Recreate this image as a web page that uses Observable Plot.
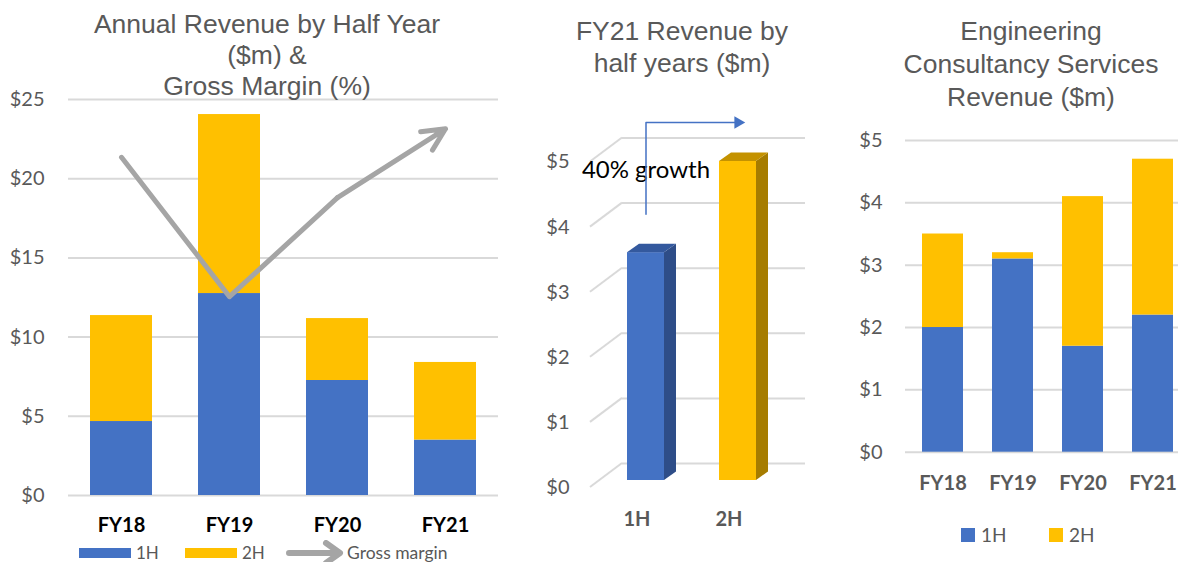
<!DOCTYPE html>
<html><head><meta charset="utf-8">
<script src="https://cdn.jsdelivr.net/npm/d3@7"></script>
<script src="https://cdn.jsdelivr.net/npm/@observablehq/plot@0.6"></script>
<style>
body{margin:0;background:#fff;}
#root{position:relative;width:1178px;height:562px;overflow:hidden;font-family:Lato,sans-serif;}
.panel{position:absolute;top:0;}
.title{position:absolute;text-align:center;font-family:"Liberation Sans",Arial,sans-serif;font-size:26.5px;color:#595959;white-space:nowrap;}
.leg{position:absolute;font-family:Lato,sans-serif;color:#595959;white-space:nowrap;}
.sw{position:absolute;}
</style></head><body><div id="root"></div>
<script>
// ---------- data ----------
const years = ["FY18", "FY19", "FY20", "FY21"];
const halves = ["1H", "2H"];
const annualRevenue1H = [4.67, 12.75, 7.26, 3.5];
const annualRevenue2H = [6.69, 11.3, 3.91, 4.9];
const grossMarginPct = [42.7, 25.1, 37.6, 46.3];
const grossMarginAxisMax = 50; // hidden secondary axis: 50% at the $25m line
const fy21HalfRevenue = [3.5, 4.9];
const ecsRevenue1H = [2.0, 3.1, 1.7, 2.2];
const ecsRevenue2H = [1.5, 0.1, 2.4, 2.5];
const annualTicks = [0, 5, 10, 15, 20, 25];
const fy21Ticks = [0, 1, 2, 3, 4, 5];
const ecsTicks = [0, 1, 2, 3, 4, 5];

const BLUE = "#4472c4", YELLOW = "#ffc000", GRAY = "#a5a5a5", GRID = "#d9d9d9", TXT = "#595959";
const root = document.getElementById("root");
const fmt = d => "$" + d;
const baseStyle = {fontFamily: "Lato, sans-serif", fontSize: "20px", color: TXT, background: "transparent", overflow: "visible"};

function place(el, left) { el.classList.add("panel"); el.style.left = left + "px"; root.appendChild(el); return el; }
function div(cls, html, css) { const d = document.createElement("div"); d.className = cls; d.innerHTML = html; Object.assign(d.style, css); root.appendChild(d); return d; }

// ---------- panel 1 ----------
const annualRows = years.flatMap((y, i) => [
  {year: y, half: "1H", value: annualRevenue1H[i]},
  {year: y, half: "2H", value: annualRevenue2H[i]}
]);
const gmRows = years.map((y, i) => ({year: y, gm: grossMarginPct[i]}));
const gmY = d => d.gm * 25 / grossMarginAxisMax;

const p1 = Plot.plot({
  width: 520, height: 562, marginTop: 99, marginBottom: 67, marginLeft: 68, marginRight: 22,
  style: baseStyle,
  x: {domain: years, paddingInner: 0.43, paddingOuter: 0.205, axis: null},
  y: {domain: [0, 25], axis: null, label: null},
  color: {domain: halves, range: [BLUE, YELLOW]},
  marks: [
    Plot.ruleY(annualTicks, {stroke: GRID, strokeWidth: 2}),
    Plot.barY(annualRows, {x: "year", y: "value", fill: "half"}),
    Plot.axisY(annualTicks, {tickSize: 0, tickPadding: 24, tickFormat: fmt, fontSize: 20, label: null}),
    Plot.text(years, {x: d => d, y: d => 0, dy: 30, text: d => d, fontWeight: "bold", fontSize: 20, fill: "#000"}),
    Plot.line(gmRows.slice(0, 3), {x: "year", y: gmY, stroke: GRAY, strokeWidth: 5, strokeLinecap: "round", strokeLinejoin: "round"}),
    Plot.arrow([{a: gmRows[2], b: gmRows[3]}], {
      x1: d => d.a.year, y1: d => gmY(d.a), x2: d => d.b.year, y2: d => gmY(d.b),
      stroke: GRAY, strokeWidth: 5, headLength: 7.5, headAngle: 52, strokeLinecap: "round", strokeLinejoin: "round"
    })
  ]
});
place(p1, 0);

div("title", "Annual Revenue by Half Year<br>($m) &amp;<br>Gross Margin (%)", {left: "17px", width: "500px", top: "9px", lineHeight: "31px"});
// legend 1
div("sw", "", {left: "79px", top: "548px", width: "52px", height: "10px", background: BLUE});
div("leg", "1H", {left: "136px", top: "543px", lineHeight: "20px", fontSize: "17px"});
div("sw", "", {left: "185px", top: "548px", width: "52px", height: "10px", background: YELLOW});
div("leg", "2H", {left: "242px", top: "543px", lineHeight: "20px", fontSize: "17px"});
div("sw", '<svg width="60" height="26"><path d="M3,13 L52,13 M40,3 L54,13 L40,23" fill="none" stroke="' + GRAY + '" stroke-width="6" stroke-linecap="round" stroke-linejoin="round"/></svg>', {left: "286px", top: "540px", width: "60px", height: "26px"});
div("leg", "Gross margin", {left: "347px", top: "543px", lineHeight: "20px", fontSize: "17.5px"});

// ---------- panel 2 ----------
const fy21Rows = halves.map((h, i) => ({half: h, value: fy21HalfRevenue[i]}));
const growth = Math.round((fy21HalfRevenue[1] / fy21HalfRevenue[0] - 1) * 100);
const connector = [{h: "1H", v: 4.09}, {h: "1H", v: 5.5}, {h: "2H", v: 5.5}];

const p2 = Plot.plot({
  width: 310, height: 562, marginTop: 154.5, marginBottom: 82, marginLeft: 61, marginRight: 28,
  style: baseStyle,
  x: {domain: halves, paddingInner: 0.598, paddingOuter: 0.5, axis: null},
  y: {domain: [0, 5], axis: null, label: null},
  color: {domain: halves, range: [BLUE, YELLOW]},
  marks: [
    Plot.ruleY(fy21Ticks, {dy: -17, insetLeft: 41, insetRight: -3, stroke: GRID, strokeWidth: 2}),
    Plot.barY(fy21Rows, {x: "half", y: "value", fill: "half"}),
    Plot.axisY(fy21Ticks, {tickSize: 0, tickPadding: 12, dy: 7, tickFormat: fmt, fontSize: 20, label: null}),
    Plot.text(halves, {x: d => d, y: d => 0, dy: 39, dx: -9, text: d => d, fontWeight: "bold", fontSize: 20, fill: TXT}),
    Plot.text([growth + "% growth"], {x: d => "1H", y: d => 4.76, text: d => d, fontSize: 24, fill: "#000"}),
    Plot.line(connector, {x: "h", y: "v", stroke: BLUE, strokeWidth: 1.5}),
    Plot.dot(connector.slice(2), {x: "h", y: "v", symbol: "triangle2", rotate: 90, r: 6, fill: BLUE})
  ]
});
place(p2, 520);
{
  const sx = p2.scale("x"), sy = p2.scale("y"), bw = sx.bandwidth;
  const svg = d3.select(p2);
  const back = svg.insert("g", ":first-child");
  fy21Ticks.forEach(t => {
    const y = sy.apply(t);
    back.append("line").attr("x1", 70).attr("y1", y + 7).attr("x2", 102).attr("y2", y - 17)
      .attr("stroke", GRID).attr("stroke-width", 2);
  });
  const g = svg.append("g");
  const DX = 12, DY = -8.5;
  const sideCol = {"1H": "#2e4d88", "2H": "#a67c00"}, topCol = {"1H": "#34599e", "2H": "#c49200"};
  fy21Rows.forEach(d => {
    const x0 = sx.apply(d.half), x1 = x0 + bw, yt = sy.apply(d.value), yb = sy.apply(0);
    g.append("polygon").attr("points", [[x1, yt], [x1 + DX, yt + DY], [x1 + DX, yb + DY], [x1, yb]].join(" ")).attr("fill", sideCol[d.half]);
    g.append("polygon").attr("points", [[x0, yt], [x0 + DX, yt + DY], [x1 + DX, yt + DY], [x1, yt]].join(" ")).attr("fill", topCol[d.half]);
  });
}
div("title", "FY21 Revenue by<br>half years ($m)", {left: "532px", width: "300px", top: "15px", lineHeight: "32px"});

// ---------- panel 3 ----------
const ecsRows = years.flatMap((y, i) => [
  {year: y, half: "1H", value: ecsRevenue1H[i]},
  {year: y, half: "2H", value: ecsRevenue2H[i]}
]);
const p3 = Plot.plot({
  width: 348, height: 562, marginTop: 140, marginBottom: 110.3, marginLeft: 75, marginRight: 0,
  style: baseStyle,
  x: {domain: years, paddingInner: 0.42, paddingOuter: 0.14, align: 0.754, axis: null},
  y: {domain: [0, 5], axis: null, label: null},
  color: {domain: halves, range: [BLUE, YELLOW]},
  marks: [
    Plot.ruleY(ecsTicks, {stroke: GRID, strokeWidth: 2}),
    Plot.barY(ecsRows, {x: "year", y: "value", fill: "half"}),
    Plot.axisY(ecsTicks, {tickSize: 0, tickPadding: 23, tickFormat: fmt, fontSize: 20, label: null}),
    Plot.text(years, {x: d => d, y: d => 0, dy: 31, text: d => d, fontWeight: "bold", fontSize: 20, fill: TXT})
  ]
});
place(p3, 830);
div("title", "Engineering<br>Consultancy Services<br>Revenue ($m)", {left: "881px", width: "300px", top: "15px", lineHeight: "33px"});
div("sw", "", {left: "961px", top: "528px", width: "14px", height: "14px", background: BLUE});
div("leg", "1H", {left: "981px", top: "523px", lineHeight: "24px", fontSize: "19px"});
div("sw", "", {left: "1049px", top: "528px", width: "14px", height: "14px", background: YELLOW});
div("leg", "2H", {left: "1069px", top: "523px", lineHeight: "24px", fontSize: "19px"});
</script>
</body></html>
